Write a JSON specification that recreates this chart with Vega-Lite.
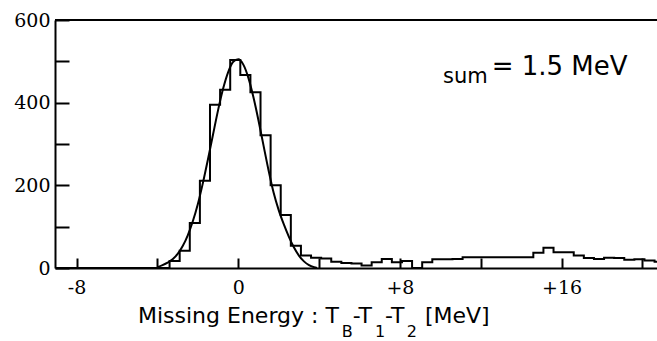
{
  "$schema": "https://vega.github.io/schema/vega-lite/v6.json",
  "width": 602,
  "height": 248,
  "autosize": "none",
  "padding": {"left": 55, "top": 20, "right": 0, "bottom": 73},
  "background": "white",
  "config": {
    "view": {"stroke": null},
    "axis": {
      "grid": false,
      "domainColor": "black",
      "domainWidth": 2,
      "tickColor": "black",
      "tickWidth": 2,
      "labelColor": "black",
      "labelFont": "DejaVu Serif",
      "labelFontSize": 19,
      "labelFontWeight": "normal",
      "labelOverlap": false,
      "labelFlush": false,
      "title": null
    }
  },
  "datasets": {
    "hist": [
      {"energy": -9.4, "counts": 0},
      {"energy": -3.4, "counts": 17},
      {"energy": -2.9, "counts": 42},
      {"energy": -2.4, "counts": 109},
      {"energy": -1.9, "counts": 211},
      {"energy": -1.4, "counts": 395},
      {"energy": -0.9, "counts": 431},
      {"energy": -0.4, "counts": 503},
      {"energy": 0.1, "counts": 467},
      {"energy": 0.6, "counts": 425},
      {"energy": 1.1, "counts": 321},
      {"energy": 1.6, "counts": 200},
      {"energy": 2.1, "counts": 128},
      {"energy": 2.6, "counts": 54},
      {"energy": 3.1, "counts": 30},
      {"energy": 3.6, "counts": 25},
      {"energy": 4.1, "counts": 23},
      {"energy": 4.6, "counts": 15},
      {"energy": 5.1, "counts": 12},
      {"energy": 5.6, "counts": 11},
      {"energy": 6.1, "counts": 6},
      {"energy": 6.6, "counts": 14},
      {"energy": 7.1, "counts": 22},
      {"energy": 7.6, "counts": 14},
      {"energy": 8.1, "counts": 17},
      {"energy": 8.6, "counts": 0},
      {"energy": 9.1, "counts": 14},
      {"energy": 9.6, "counts": 21},
      {"energy": 10.1, "counts": 21},
      {"energy": 10.6, "counts": 22},
      {"energy": 11.1, "counts": 26},
      {"energy": 11.6, "counts": 26},
      {"energy": 12.1, "counts": 26},
      {"energy": 12.6, "counts": 26},
      {"energy": 13.1, "counts": 26},
      {"energy": 13.6, "counts": 26},
      {"energy": 14.1, "counts": 26},
      {"energy": 14.6, "counts": 37},
      {"energy": 15.1, "counts": 49},
      {"energy": 15.6, "counts": 38},
      {"energy": 16.1, "counts": 38},
      {"energy": 16.6, "counts": 30},
      {"energy": 17.1, "counts": 24},
      {"energy": 17.6, "counts": 22},
      {"energy": 18.1, "counts": 25},
      {"energy": 18.6, "counts": 24},
      {"energy": 19.1, "counts": 20},
      {"energy": 19.6, "counts": 21},
      {"energy": 20.1, "counts": 18},
      {"energy": 20.6, "counts": 15},
      {"energy": 21.1, "counts": 15}
    ],
    "fit": [
      {"energy": -4.0, "counts": 2},
      {"energy": -3.75, "counts": 7},
      {"energy": -3.5, "counts": 13},
      {"energy": -3.25, "counts": 21},
      {"energy": -3.0, "counts": 34},
      {"energy": -2.75, "counts": 53},
      {"energy": -2.5, "counts": 79},
      {"energy": -2.25, "counts": 113},
      {"energy": -2.0, "counts": 155},
      {"energy": -1.75, "counts": 206},
      {"energy": -1.5, "counts": 263},
      {"energy": -1.25, "counts": 323},
      {"energy": -1.0, "counts": 382},
      {"energy": -0.75, "counts": 434},
      {"energy": -0.5, "counts": 474},
      {"energy": -0.25, "counts": 499},
      {"energy": 0.0, "counts": 505},
      {"energy": 0.25, "counts": 492},
      {"energy": 0.5, "counts": 460},
      {"energy": 0.75, "counts": 413},
      {"energy": 1.0, "counts": 357},
      {"energy": 1.25, "counts": 296},
      {"energy": 1.5, "counts": 236},
      {"energy": 1.75, "counts": 182},
      {"energy": 2.0, "counts": 140},
      {"energy": 2.25, "counts": 106},
      {"energy": 2.5, "counts": 76},
      {"energy": 2.75, "counts": 50},
      {"energy": 3.0, "counts": 30},
      {"energy": 3.25, "counts": 16},
      {"energy": 3.5, "counts": 7},
      {"energy": 3.75, "counts": 2},
      {"energy": 3.9, "counts": 0}
    ]
  },
  "layer": [
    {
      "data": {"name": "hist"},
      "mark": {"type": "line", "interpolate": "step-after", "color": "black", "strokeWidth": 2, "clip": true},
      "encoding": {
        "x": {
          "field": "energy",
          "type": "quantitative",
          "scale": {"domain": [-9.07, 20.72], "nice": false, "zero": false},
          "axis": {
            "values": [-8, -4, 0, 4, 8, 12, 16, 20],
            "tickSize": -10,
            "labelPadding": 20,
            "labelExpr": "datum.value % 8 !== 0 ? '' : (datum.value > 0 ? '+' + datum.value : (datum.value < 0 ? '-' + (-datum.value) : '0'))"
          }
        },
        "y": {
          "field": "counts",
          "type": "quantitative",
          "scale": {"domain": [0, 600], "nice": false},
          "axis": {
            "values": [0, 100, 200, 300, 400, 500, 600],
            "tickSize": -14,
            "labelPadding": 19,
            "labelExpr": "datum.value % 200 === 0 ? '' + datum.value : ''"
          }
        }
      }
    },
    {
      "data": {"name": "fit"},
      "mark": {"type": "line", "interpolate": "monotone", "color": "black", "strokeWidth": 2, "clip": true},
      "encoding": {
        "x": {"field": "energy", "type": "quantitative"},
        "y": {"field": "counts", "type": "quantitative"}
      }
    },
    {
      "data": {"values": [{}]},
      "mark": {"type": "rule", "color": "black", "strokeWidth": 2},
      "encoding": {"y": {"datum": 600}}
    },
    {
      "data": {"values": [{}]},
      "mark": {"type": "text", "align": "left", "baseline": "alphabetic", "font": "DejaVu Sans", "fontSize": 22, "color": "black"},
      "encoding": {"x": {"datum": -4.963}, "y": {"datum": -133}, "text": {"value": "Missing Energy : T"}}
    },
    {
      "data": {"values": [{}]},
      "mark": {"type": "text", "align": "left", "baseline": "alphabetic", "font": "DejaVu Sans", "fontSize": 16, "color": "black"},
      "encoding": {"x": {"datum": 5.116}, "y": {"datum": -167}, "text": {"value": "B"}}
    },
    {
      "data": {"values": [{}]},
      "mark": {"type": "text", "align": "left", "baseline": "alphabetic", "font": "DejaVu Sans", "fontSize": 22, "color": "black"},
      "encoding": {"x": {"datum": 5.661}, "y": {"datum": -133}, "text": {"value": "-T"}}
    },
    {
      "data": {"values": [{}]},
      "mark": {"type": "text", "align": "left", "baseline": "alphabetic", "font": "DejaVu Sans", "fontSize": 16, "color": "black"},
      "encoding": {"x": {"datum": 6.764}, "y": {"datum": -167}, "text": {"value": "1"}}
    },
    {
      "data": {"values": [{}]},
      "mark": {"type": "text", "align": "left", "baseline": "alphabetic", "font": "DejaVu Sans", "fontSize": 22, "color": "black"},
      "encoding": {"x": {"datum": 7.259}, "y": {"datum": -133}, "text": {"value": "-T"}}
    },
    {
      "data": {"values": [{}]},
      "mark": {"type": "text", "align": "left", "baseline": "alphabetic", "font": "DejaVu Sans", "fontSize": 16, "color": "black"},
      "encoding": {"x": {"datum": 8.333}, "y": {"datum": -167}, "text": {"value": "2"}}
    },
    {
      "data": {"values": [{}]},
      "mark": {"type": "text", "align": "left", "baseline": "alphabetic", "font": "DejaVu Sans", "fontSize": 22, "color": "black"},
      "encoding": {"x": {"datum": 9.238}, "y": {"datum": -133}, "text": {"value": "[MeV]"}}
    },
    {
      "data": {"values": [{}]},
      "mark": {"type": "text", "align": "left", "baseline": "alphabetic", "font": "DejaVu Sans", "fontSize": 21, "color": "black"},
      "encoding": {"x": {"datum": 10.13}, "y": {"datum": 447}, "text": {"value": "sum"}}
    },
    {
      "data": {"values": [{}]},
      "mark": {"type": "text", "align": "left", "baseline": "alphabetic", "font": "DejaVu Sans", "fontSize": 26, "color": "black"},
      "encoding": {"x": {"datum": 12.54}, "y": {"datum": 467}, "text": {"value": "= 1.5 MeV"}}
    }
  ]
}
